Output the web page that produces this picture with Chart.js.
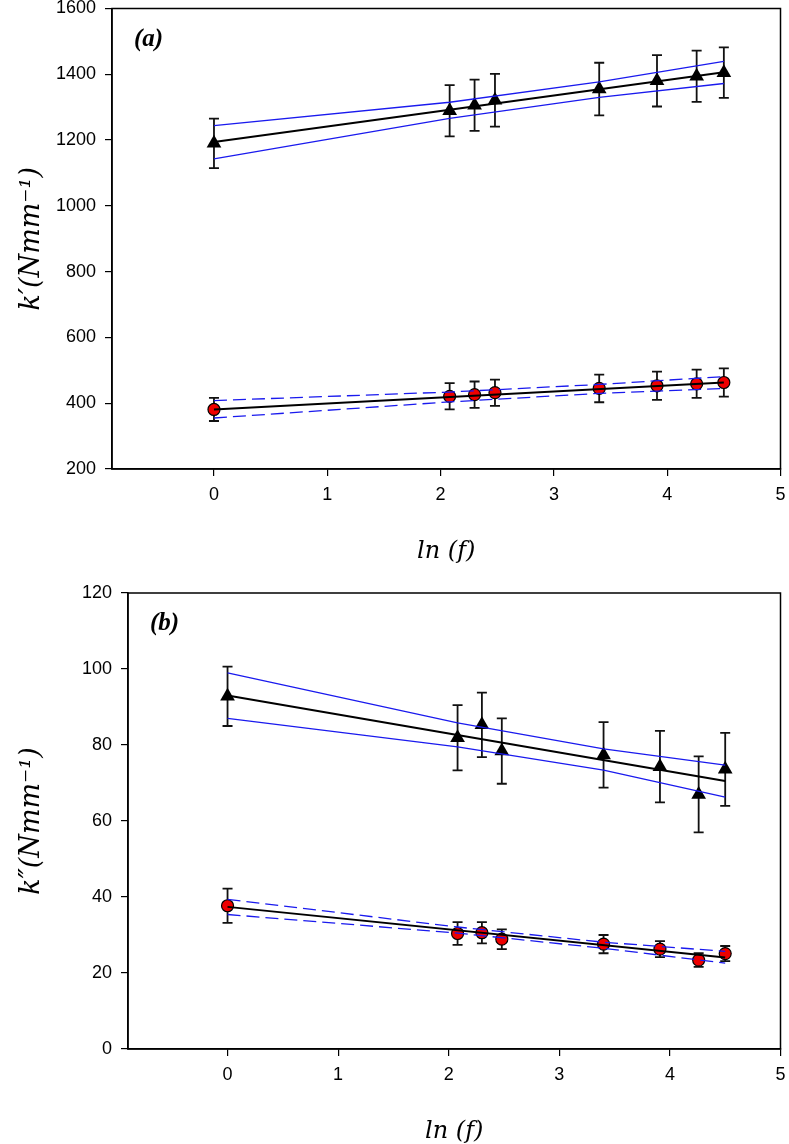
<!DOCTYPE html>
<html>
<head>
<meta charset="utf-8">
<script src="https://cdn.jsdelivr.net/npm/chart.js@4.4.1/dist/chart.umd.min.js"></script>
<style>
    body { margin: 0; background: #ffffff; width: 789px; height: 1144px; overflow: hidden; }
    .panel { position: absolute; left: 0; }
</style>
</head>
<body>
<div class="panel" style="top:0"><canvas id="chartA" width="789" height="575"></canvas></div>
<div class="panel" style="top:575px"><canvas id="chartB" width="789" height="569"></canvas></div>
<script>
// ln(f) of the test frequencies
const lnF = [0, 2.08, 2.30, 2.48, 3.40, 3.91, 4.26, 4.50];
const fitX = [0, 4.50];
const bandX = [0, 2.08, 3.40, 4.50];
const xTicks = [0, 1, 2, 3, 4, 5];

// (a) k' - storage stiffness
const kStorTicks = [200, 400, 600, 800, 1000, 1200, 1400, 1600];
const kStorTri = [1190, 1289, 1306, 1321, 1355, 1380, 1394, 1405];
const kStorTriErr = [75, 78, 78, 80, 80, 78, 78, 77];
const kStorTriFit = [1194, 1406];
const kStorTriUpper = [1244, 1315, 1377, 1439];
const kStorTriLower = [1143, 1266, 1330, 1372];
const kStorCirc = [381, 421, 426, 432, 445, 453, 459, 463];
const kStorCircErr = [35, 40, 40, 40, 42, 43, 43, 43];
const kStorCircFit = [381, 463];
const kStorCircUpper = [408, 434, 457, 481];
const kStorCircLower = [355, 404, 430, 445];

// (b) k'' - loss stiffness
const kLossTicks = [0, 20, 40, 60, 80, 100, 120];
const kLossTri = [92.8, 81.9, 85.3, 78.4, 77.4, 74.3, 67.0, 73.6];
const kLossTriErr = [7.8, 8.6, 8.5, 8.6, 8.6, 9.4, 10.0, 9.6];
const kLossTriFit = [93.0, 70.5];
const kLossTriUpper = [99.0, 85.8, 79.0, 74.7];
const kLossTriLower = [87.0, 79.5, 73.4, 66.3];
const kLossCirc = [37.7, 30.4, 30.6, 28.9, 27.6, 26.3, 23.4, 25.1];
const kLossCircErr = [4.5, 3.0, 2.8, 2.6, 2.4, 2.1, 1.8, 2.0];
const kLossCircFit = [37.4, 24.1];
const kLossCircUpper = [39.4, 32.1, 28.1, 25.7];
const kLossCircLower = [35.4, 30.5, 26.5, 22.6];

const BLUE = '#1a1aee';
const TICK_FONT = { family: "'Liberation Sans', Arial, sans-serif", size: 18 };

function pts(xs, ys) {
    return xs.map((x, i) => ({ x: x, y: ys[i] }));
}

function lineSet(xs, ys, color, width, dash) {
    return {
        type: 'line',
        data: pts(xs, ys),
        borderColor: color,
        borderWidth: width,
        borderDash: dash || [],
        pointRadius: 0,
        fill: false,
        tension: 0
    };
}

function markerSet(ys, errs, style) {
    const tri = style === 'triangle';
    return {
        type: 'scatter',
        data: pts(lnF, ys),
        errors: errs,
        pointStyle: tri ? 'triangle' : 'circle',
        pointRadius: tri ? 8.5 : 6,
        backgroundColor: tri ? '#000000' : '#ee0000',
        borderColor: '#000000',
        borderWidth: tri ? 0 : 1.2
    };
}

// error bars + frame + texts
const decorPlugin = {
    id: 'decor',
    beforeDatasetsDraw(chart) {
        const ctx = chart.ctx;
        const xs = chart.scales.x, ys = chart.scales.y;
        ctx.save();
        ctx.strokeStyle = '#111111';
        ctx.lineWidth = 1.8;
        chart.data.datasets.forEach(ds => {
            if (!ds.errors) return;
            ds.data.forEach((p, i) => {
                const px = xs.getPixelForValue(p.x);
                const top = ys.getPixelForValue(p.y + ds.errors[i]);
                const bot = ys.getPixelForValue(p.y - ds.errors[i]);
                ctx.beginPath();
                ctx.moveTo(px, top); ctx.lineTo(px, bot);
                ctx.moveTo(px - 5, top); ctx.lineTo(px + 5, top);
                ctx.moveTo(px - 5, bot); ctx.lineTo(px + 5, bot);
                ctx.stroke();
            });
        });
        ctx.restore();
    },
    afterDraw(chart, args, opts) {
        const ctx = chart.ctx;
        const a = chart.chartArea;
        ctx.save();
        ctx.strokeStyle = '#000000';
        ctx.lineWidth = 1.5;
        ctx.strokeRect(a.left, a.top, a.right - a.left, a.bottom - a.top);

        ctx.fillStyle = '#000000';
        ctx.font = "bold italic 25px 'Liberation Serif', 'Times New Roman', serif";
        ctx.textBaseline = 'middle';
        ctx.textAlign = 'left';
        ctx.fillText(opts.tag, a.left + 22, a.top + 31);

        ctx.font = "italic 24px 'DejaVu Serif', serif";
        ctx.textAlign = 'center';
        ctx.fillText('ln (f)', (a.left + a.right) / 2, opts.xTitleY);

        ctx.translate(32, (a.top + a.bottom) / 2);
        ctx.rotate(-Math.PI / 2);
        ctx.font = "italic 27px 'DejaVu Serif', serif";
        ctx.fillText(opts.yTitle, 0, 0);
        ctx.restore();
    }
};

function makeChart(id, cfg) {
    const ctx = document.getElementById(id).getContext('2d');
    return new Chart(ctx, {
        data: { datasets: cfg.datasets },
        options: {
            responsive: false,
            animation: false,
            layout: { padding: { top: cfg.top, right: 7, left: 0, bottom: 0 } },
            plugins: {
                legend: { display: false },
                tooltip: { enabled: false },
                decor: { tag: cfg.tag, yTitle: cfg.yTitle, xTitleY: cfg.xTitleY }
            },
            scales: {
                x: {
                    type: 'linear',
                    min: -0.9,
                    max: 5,
                    afterBuildTicks: s => { s.ticks = xTicks.map(v => ({ value: v })); },
                    afterFit: s => { s.height = cfg.xHeight; s.paddingLeft = 0; s.paddingRight = 0; },
                    border: { color: '#000000', width: 1.5 },
                    grid: { drawOnChartArea: false, tickLength: 7, color: '#000000', lineWidth: 1.2 },
                    ticks: { color: '#000000', font: TICK_FONT, padding: 8, maxRotation: 0, callback: v => String(v) }
                },
                y: {
                    type: 'linear',
                    min: cfg.yTicks[0],
                    max: cfg.yTicks[cfg.yTicks.length - 1],
                    afterBuildTicks: s => { s.ticks = cfg.yTicks.map(v => ({ value: v })); },
                    afterFit: s => { s.width = cfg.yWidth; s.paddingTop = 0; s.paddingBottom = 0; },
                    border: { color: '#000000', width: 1.5 },
                    grid: { drawOnChartArea: false, tickLength: 7, color: '#000000', lineWidth: 1.2 },
                    ticks: { color: '#000000', font: TICK_FONT, padding: 9, callback: v => String(v) }
                }
            }
        },
        plugins: [decorPlugin]
    });
}

makeChart('chartA', {
    tag: '(a)',
    yTitle: 'k\u2032(Nmm\u207B\u00B9)',
    xTitleY: 552,
    top: 7,
    xHeight: 106,
    yWidth: 112,
    yTicks: kStorTicks,
    datasets: [
        lineSet(bandX, kStorTriUpper, BLUE, 1.3),
        lineSet(bandX, kStorTriLower, BLUE, 1.3),
        lineSet(fitX, kStorTriFit, '#000000', 2),
        lineSet(bandX, kStorCircUpper, BLUE, 1.3, [13, 6]),
        lineSet(bandX, kStorCircLower, BLUE, 1.3, [13, 6]),
        lineSet(fitX, kStorCircFit, '#000000', 2),
        markerSet(kStorTri, kStorTriErr, 'triangle'),
        markerSet(kStorCirc, kStorCircErr, 'circle')
    ]
});

makeChart('chartB', {
    tag: '(b)',
    yTitle: 'k\u2033(Nmm\u207B\u00B9)',
    xTitleY: 557,
    top: 18,
    xHeight: 95,
    yWidth: 128,
    yTicks: kLossTicks,
    datasets: [
        lineSet(bandX, kLossTriUpper, BLUE, 1.3),
        lineSet(bandX, kLossTriLower, BLUE, 1.3),
        lineSet(fitX, kLossTriFit, '#000000', 2),
        lineSet(bandX, kLossCircUpper, BLUE, 1.3, [13, 6]),
        lineSet(bandX, kLossCircLower, BLUE, 1.3, [13, 6]),
        lineSet(fitX, kLossCircFit, '#000000', 2),
        markerSet(kLossTri, kLossTriErr, 'triangle'),
        markerSet(kLossCirc, kLossCircErr, 'circle')
    ]
});
</script>
</body>
</html>
